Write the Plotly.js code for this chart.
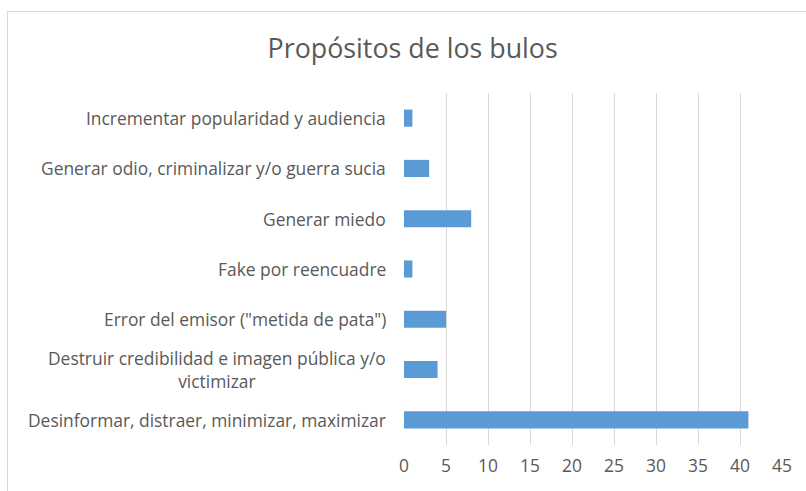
<!DOCTYPE html>
<html><head><meta charset="utf-8">
<script src="https://cdn.plot.ly/plotly-3.0.1.min.js"></script>
<style>
body{margin:0;padding:0;background:#fff;}
#wrap{position:relative;width:806px;height:491px;overflow:hidden;}
#chart{position:absolute;left:0;top:0;width:806px;height:491px;}
#frame{position:absolute;left:7px;top:11px;width:900px;height:600px;border:1px solid #D9D9D9;pointer-events:none;}
</style></head>
<body>
<div id="wrap"><div id="chart"></div><div id="frame"></div></div>
<script>
const categories = [
  "Desinformar, distraer, minimizar, maximizar",
  "Destruir credibilidad e imagen pública y/o<br>victimizar",
  "Error del emisor (\"metida de pata\")",
  "Fake por reencuadre",
  "Generar miedo",
  "Generar odio, criminalizar y/o guerra sucia",
  "Incrementar popularidad y audiencia"
];
const values = [41, 4, 5, 1, 8, 3, 1];
const xTicks = [0, 5, 10, 15, 20, 25, 30, 35, 40, 45];
const titleText = "Propósitos de los bulos";

const font = "'Open Sans', sans-serif";
const annotations = categories.map((c, i) => ({
  x: 0, xref: 'x', y: i, yref: 'y', text: c, showarrow: false,
  xanchor: 'right', yanchor: 'middle', align: 'center', xshift: -16,
  font: {family: font, size: 17.4, color: '#595959'}
}));

Plotly.newPlot('chart', [{
  type: 'bar', orientation: 'h', x: values, y: categories.map((c, i) => i),
  marker: {color: '#5B9BD5', line: {width: 0}}, width: 0.34, hoverinfo: 'none'
}], {
  width: 806, height: 491,
  margin: {l: 404, r: 24, t: 93, b: 46, pad: 0},
  paper_bgcolor: '#fff', plot_bgcolor: '#fff',
  title: {text: titleText, x: 0.512, xref: 'container', y: 0.92, yref: 'container', xanchor: 'center',
          font: {family: font, size: 26.8, color: '#595959'}},
  xaxis: {range: [0, 45], tickvals: xTicks, ticktext: xTicks.map(String), showgrid: true,
          gridcolor: '#D9D9D9', gridwidth: 1, zeroline: false, showline: false, ticks: '',
          tickfont: {family: font, size: 17.4, color: '#595959'}, ticklabelstandoff: 9, fixedrange: true},
  yaxis: {range: [-0.5, 6.5], showticklabels: false, showgrid: false, zeroline: false,
          showline: false, ticks: '', fixedrange: true},
  annotations: annotations,
  showlegend: false
}, {displayModeBar: false, staticPlot: true});
</script>
</body></html>
